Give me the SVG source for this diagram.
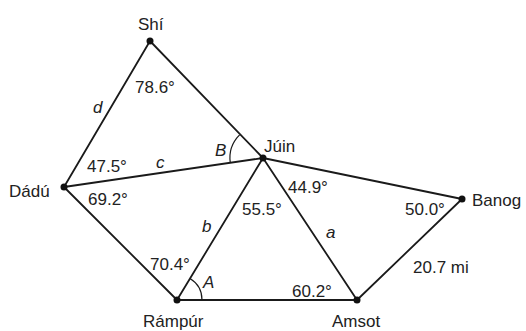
<svg xmlns="http://www.w3.org/2000/svg" width="526" height="331" viewBox="0 0 526 331">
<style>
.e{stroke:#1a1a1a;stroke-width:1.8;fill:none;stroke-linecap:round}
.a{stroke:#1a1a1a;stroke-width:1.2;fill:none}
.d{fill:#111}
text{font-family:"Liberation Sans",Arial,sans-serif;font-size:17px;fill:#222}
.i{font-style:italic}
</style>
<rect width="526" height="331" fill="#fff"/>
<g id="connectors">
<line class="e" x1="150" y1="41" x2="263" y2="158"/>
<line class="e" x1="150" y1="41" x2="64" y2="187"/>
<line class="e" x1="64" y1="187" x2="263" y2="158"/>
<line class="e" x1="64" y1="187" x2="177" y2="300"/>
<line class="e" x1="177" y1="300" x2="263" y2="158"/>
<line class="e" x1="263" y1="158" x2="357" y2="300"/>
<line class="e" x1="177" y1="300" x2="357" y2="300"/>
<line class="e" x1="263" y1="158" x2="462" y2="199"/>
<line class="e" x1="357" y1="300" x2="462" y2="199"/>
<path class="a" d="M239.6,134.8 A33,33 0 0 0 230.3,162.8"/>
<path class="a" d="M190,278.6 A25,25 0 0 1 202,300"/>
<text class="i" x="93" y="113">d</text>
<text class="i" x="156" y="168">c</text>
<text class="i" x="215" y="156">B</text>
<text class="i" x="202" y="232">b</text>
<text class="i" x="326" y="238">a</text>
<text class="i" x="203" y="288">A</text>
<text x="135" y="93">78.6°</text>
<text x="87" y="172">47.5°</text>
<text x="88" y="205">69.2°</text>
<text x="150" y="270">70.4°</text>
<text x="242" y="215">55.5°</text>
<text x="288" y="193">44.9°</text>
<text x="292" y="297">60.2°</text>
<text x="405" y="215">50.0°</text>
<text x="413" y="273">20.7 mi</text>
</g>
<g id="shi"><circle class="d" cx="150" cy="41" r="3.5"/><text x="138" y="30">Shí</text></g>
<g id="juin"><circle class="d" cx="263" cy="158" r="3.5"/><text x="264" y="152">Júin</text></g>
<g id="dadu"><circle class="d" cx="64" cy="187" r="3.5"/><text x="9" y="197">Dádú</text></g>
<g id="rampur"><circle class="d" cx="177" cy="300" r="3.5"/><text x="143" y="327">Rámpúr</text></g>
<g id="amsot"><circle class="d" cx="357" cy="300" r="3.5"/><text x="332" y="327">Amsot</text></g>
<g id="banog"><circle class="d" cx="462" cy="199" r="3.5"/><text x="472" y="206">Banog</text></g>
</svg>
